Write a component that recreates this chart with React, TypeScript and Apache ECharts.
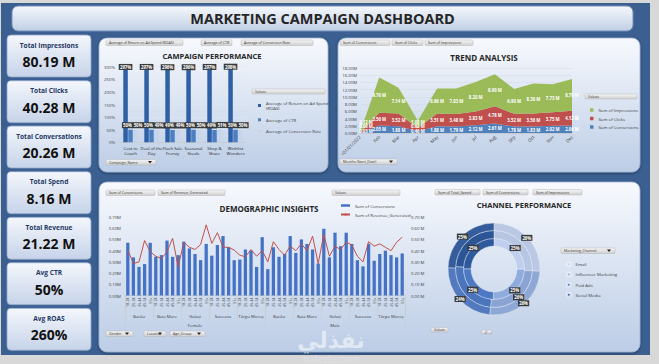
import React, { useEffect, useRef } from 'react';
import * as echarts from 'echarts';

const FONT = '"Open Sans", "Noto Sans", "DejaVu Sans", sans-serif';

// KPI cards
const kpiLabels = ['Total Impressions', 'Total Clicks', 'Total Conversations', 'Total Spend', 'Total Revenue', 'Avg CTR', 'Avg ROAS'];
const kpiValues = ['80.19 M', '40.28 M', '20.26 M', '8.16 M', '21.22 M', '50%', '260%'];

// Campaign performance
const campaigns = ['Cost to Couch', 'Deal of the Day', 'Flash Sale Frenzy', 'Seasonal Steals', 'Shop & Share', 'Wishlist Wonders'];
const roas = [2.97, 2.97, 2.96, 2.96, 2.97, 2.98];
const ctr = [0.5, 0.5, 0.49, 0.5, 0.49, 0.5];
const conversionRate = [0.5, 0.49, 0.49, 0.5, 0.51, 0.5];

// Trend analysis
const months = ['<01/01/2022', 'Feb', 'Mar', 'Apr', 'May', 'Jun', 'Jul', 'Aug', 'Sep', 'Oct', 'Nov', 'Dec'];
const impressions = [0.12, 9.76, 7.14, 1.98, 6.96, 7.03, 8.2, 8.9, 6.9, 8.3, 7.73, 8.79];
const clicks = [0.06, 3.56, 3.52, 0.92, 3.51, 3.48, 3.83, 4.78, 3.52, 3.56, 3.75, 4.12];
const conversions = [0.03, 2.05, 1.88, 0.46, 1.88, 1.79, 2.12, 2.61, 1.78, 1.83, 2.02, 2.06];

// Demographic insights
const ageGroups = ['18-24', '25-34', '35-44', '45-54', '55+'];
const locations = ['Bacău', 'Baia Mare', 'Galați', 'Suceava', 'Târgu Mureș'];
const genders = ['Female', 'Male'];
const demoConversions = [
  0.47, 0.34, 0.255, 0.28, 0.47, 0.345, 0.36, 0.49, 0.345, 0.36,
  0.48, 0.42, 0.37, 0.315, 0.46, 0.355, 0.45, 0.53, 0.43, 0.315,
  0.32, 0.41, 0.4, 0.255, 0.52, 0.235, 0.43, 0.345, 0.37, 0.53,
  0.38, 0.5, 0.46, 0.41, 0.285, 0.595, 0.34, 0.56, 0.44, 0.56,
  0.46, 0.315, 0.26, 0.46, 0.31, 0.37, 0.4, 0.36, 0.34, 0.375,
];
const demoRevenue = [
  0.405, 0.285, 0.3, 0.49, 0.39, 0.35, 0.33, 0.39, 0.51, 0.255,
  0.475, 0.43, 0.41, 0.455, 0.63, 0.465, 0.56, 0.43, 0.43, 0.405,
  0.36, 0.345, 0.41, 0.35, 0.4, 0.3, 0.48, 0.41, 0.36, 0.44,
  0.4, 0.46, 0.4, 0.53, 0.285, 0.545, 0.35, 0.44, 0.41, 0.475,
  0.45, 0.35, 0.3, 0.48, 0.44, 0.46, 0.43, 0.4, 0.475, 0.52,
];
const demoTicks = [0, 0.1, 0.2, 0.3, 0.4, 0.5, 0.6, 0.7];

// Channel performance
const channels = ['Email', 'Influencer Marketing', 'Paid Ads', 'Social Media'];
const channelSpend = [2.05, 2.06, 2.02, 2.03];
const channelConversions = [5.22, 5.2, 4.98, 4.86];
const channelImpressions = [20.7, 20.6, 19.2, 19.7];
const channelColors = ['#b7c6e3', '#89a4d3', '#4a74bb', '#2c5596'];

const grad = (c1: string, c2: string) =>
  new echarts.graphic.LinearGradient(0, 0, 0, 1, [
    { offset: 0, color: c1 },
    { offset: 1, color: c2 },
  ]);

const wrapLabel = (s: string, max = 11) => {
  const words = s.split(' ');
  const lines: string[] = [];
  let cur = '';
  words.forEach((w) => {
    const next = cur ? cur + ' ' + w : w;
    if (next.length > max && cur) {
      lines.push(cur);
      cur = w;
    } else cur = next;
  });
  if (cur) lines.push(cur);
  return lines.join('\n');
};

function button(x: number, y: number, w: number, h: number, text: string, arrow = false): any {
  const children: any[] = [
    { type: 'rect', shape: { x: 0, y: 0, width: w, height: h, r: 1 }, style: { fill: grad('#f6f6f6', '#cfcfcf'), stroke: '#ababab', lineWidth: 0.4 } },
    { type: 'text', x: 3, y: h / 2, style: { text, fontSize: 3.6, fill: '#3a3a3a', verticalAlign: 'middle', fontFamily: FONT } },
  ];
  if (arrow) {
    children.push({ type: 'polygon', shape: { points: [[w - 8, h / 2 - 1.2], [w - 4, h / 2 - 1.2], [w - 6, h / 2 + 1.3]] }, style: { fill: '#222' } });
  }
  return { type: 'group', x, y, children };
}

function panel(x: number, y: number, w: number, h: number): any {
  return {
    type: 'rect',
    shape: { x, y, width: w, height: h, r: 8 },
    style: { fill: grad('#f7f9fd', '#bccde6'), stroke: '#9cb2d3', lineWidth: 0.8, shadowBlur: 3, shadowColor: 'rgba(0,0,0,0.35)', shadowOffsetY: 1 },
  };
}

function title(x: number, y: number, text: string, size = 7.5): any {
  return { type: 'text', x, y, style: { text, fontSize: size, fontWeight: 'bold', fill: '#262626', align: 'center', verticalAlign: 'middle', fontFamily: FONT } };
}

function buildOption(): any {
  const g: any[] = [];
  // outer frame
  g.push({ type: 'rect', shape: { x: 1, y: 3, width: 649, height: 352 }, style: { fill: '#3a5f90' } });
  // title bar
  g.push({ type: 'rect', shape: { x: 12, y: 6, width: 621, height: 25, r: 6 }, style: { fill: grad('#f5f8fc', '#c0cfe5'), stroke: '#7590ba', lineWidth: 1 } });
  g.push(title(322.5, 18.5, 'MARKETING CAMPAIGN DASHBOARD', 14.5));

  // KPI cards
  const cardTops = [35, 80.7, 126, 171.7, 217.3, 262.7, 308.3];
  kpiLabels.forEach((lab, i) => {
    const t = cardTops[i];
    g.push({ type: 'rect', shape: { x: 7, y: t, width: 84, height: 42, r: 4 }, style: { fill: grad('#f4f7fc', '#c6d3e9'), stroke: '#8ea6ca', lineWidth: 0.8 } });
    g.push({ type: 'text', x: 49, y: t + 10, style: { text: lab, fontSize: 6.6, fontWeight: 'bold', fill: '#1f3864', align: 'center', verticalAlign: 'middle', fontFamily: FONT } });
    g.push({ type: 'text', x: 49, y: t + 26.5, style: { text: kpiValues[i], fontSize: 14, fontWeight: 'bold', fill: '#111', align: 'center', verticalAlign: 'middle', fontFamily: FONT } });
  });

  // panels
  g.push(panel(99, 38, 229, 134));
  g.push(panel(338, 38, 302, 134));
  g.push(panel(99, 182, 541, 170));

  // Campaign panel decorations
  g.push(button(106, 40, 77, 5.5, 'Average of Return on Ad Spend (ROAS)'));
  g.push(button(201, 40, 31, 5.5, 'Average of CTR'));
  g.push(button(241, 40, 72, 5.5, 'Average of Conversion Rate'));
  g.push(title(212, 56, 'CAMPAIGN PERFORMANCE'));
  g.push(button(252, 89, 73, 5, 'Values'));
  g.push(button(106, 159.5, 50, 5.5, 'Campaign_Name', true));

  // Trend panel decorations
  g.push(button(340, 40, 50, 5.5, 'Sum of Conversions'));
  g.push(button(392, 40, 31, 5.5, 'Sum of Clicks'));
  g.push(button(425, 40, 48, 5.5, 'Sum of Impressions'));
  g.push(title(484, 57.5, 'TREND ANALYSIS', 8));
  g.push(button(585, 94, 52, 5, 'Values'));
  g.push(button(340, 159, 57, 5.5, 'Months (Start_Date)', true));

  // Demographic decorations
  g.push(button(106, 190, 49, 5.5, 'Sum of Conversions'));
  g.push(button(158, 190, 67, 5.5, 'Sum of Revenue_Generated'));
  g.push(button(332, 190, 68, 5.5, 'Values'));
  g.push(title(269, 208, 'DEMOGRAPHIC INSIGHTS', 8));
  g.push(button(106, 331, 27, 5.5, 'Gender', true));
  g.push(button(144, 331, 22, 5.5, 'Location', true));
  g.push(button(170, 331, 35, 5.5, 'Age_Group', true));

  // Channel decorations
  g.push(button(435, 189.5, 45, 5.5, 'Sum of Total_Spend'));
  g.push(button(483, 189.5, 45, 5.5, 'Sum of Conversions'));
  g.push(button(533, 189.5, 49, 5.5, 'Sum of Impressions'));
  g.push(title(524, 204.5, 'CHANNEL PERFORMANCE', 7.5));
  g.push(button(561, 248, 54, 5.5, 'Marketing_Channel', true));
  g.push(button(431, 327.5, 17, 4.5, 'Values'));
  g.push(button(481.5, 330, 4.5, 4, '+'));
  g.push(button(487, 330, 4.5, 4, '-'));

  // watermark
  g.push({ type: 'text', x: 331, y: 340, z: 100, style: { text: 'نفذلي', fontSize: 22, fontWeight: 'bold', fill: 'rgba(255,255,255,0.55)', align: 'center', verticalAlign: 'middle', fontFamily: '"DejaVu Sans", sans-serif' } });
  g.push({ type: 'text', x: 331, y: 363.5, z: 100, style: { text: 'nafezlu.com', fontSize: 10, fill: 'rgba(225,230,238,0.75)', align: 'center', verticalAlign: 'bottom', fontFamily: FONT } });

  const campGrid = { left: 120, top: 66.7, width: 126, height: 75.6 };
  const trendGrid = { left: 360, top: 68, width: 212, height: 65 };
  const demoGrid = { left: 125, top: 217, width: 280, height: 78.5 };
  const trendMax = 18;
  const trendPx = trendGrid.height / trendMax;

  const axisText = { fontSize: 4.5, color: '#404040', fontFamily: FONT };
  const pctFmt = (v: number) => Math.round(v * 100) + '%';

  const darkLabel = { backgroundColor: '#3b3b3b', color: '#fff', fontSize: 4.3, fontWeight: 'bold', padding: [1, 1.2], fontFamily: FONT };

  // label placement inside stacked bands, kept apart where the bands are thin
  const stackSeries = [conversions, clicks, impressions];
  const labelOffsets: number[][] = stackSeries.map(() => []);
  months.forEach((_, i) => {
    let base = 0;
    let prev = -Infinity;
    stackSeries.forEach((arr, s) => {
      const top = base + arr[i];
      const pos = Math.max((base + arr[i] / 2) * trendPx, 2.3, prev + 4.6);
      labelOffsets[s][i] = top * trendPx - pos;
      prev = pos;
      base = top;
    });
  });

  const demoCats: string[] = [];
  genders.forEach(() => locations.forEach(() => ageGroups.forEach((a) => demoCats.push(a))));
  const locCats: string[] = [];
  genders.forEach(() => locations.forEach((l) => locCats.push(l)));

  const roasName = 'Average of Return on Ad Spend (ROAS)';

  const pieCommon = (name: string, radius: number[], values: number[], shade: number) => ({
    type: 'pie',
    name,
    center: [494, 269],
    radius,
    startAngle: 90,
    clockwise: true,
    data: channels.map((c, i) => ({
      name: c,
      value: values[i],
      itemStyle: { color: echarts.color.lift(channelColors[i], shade) },
    })),
    itemStyle: { borderColor: 'rgba(235,240,250,0.8)', borderWidth: 0.5 },
    label: {
      show: true,
      position: 'inside',
      formatter: (p: any) => Math.round(p.percent) + '%',
      ...darkLabel,
    },
    labelLine: { show: false },
    emphasis: { disabled: true },
  });

  return {
    animation: false,
    backgroundColor: '#d8d8d8',
    textStyle: { fontFamily: FONT },
    graphic: { elements: g },
    grid: [{ ...campGrid }, { ...trendGrid }, { ...demoGrid }],
    legend: [
      {
        data: [roasName, 'Average of CTR', 'Average of Conversion Rate'],
        orient: 'vertical',
        left: 253,
        top: 95,
        itemWidth: 3,
        itemHeight: 3,
        itemGap: 6,
        icon: 'rect',
        textStyle: { fontSize: 4.3, color: '#404040', lineHeight: 5.5 },
        formatter: (n: string) => (n === roasName ? 'Average of Return on Ad Spend\n(ROAS)' : n),
      },
      {
        data: ['Sum of Impressions', 'Sum of Clicks', 'Sum of Conversions'].map((n, i) => ({
          name: n,
          icon: 'rect',
          itemStyle: { color: ['#9bbb59', '#c0504d', '#4f81bd'][i] },
        })),
        orient: 'vertical',
        left: 585,
        top: 103,
        itemWidth: 3.5,
        itemHeight: 3.5,
        itemGap: 4.5,
        textStyle: { fontSize: 4.3, color: '#404040' },
      },
      {
        data: [
          { name: 'Sum of Conversions', icon: 'rect', itemStyle: { color: '#4472c4' } },
          { name: 'Sum of Revenue_Generated' },
        ],
        orient: 'vertical',
        left: 335,
        top: 198.5,
        itemWidth: 9,
        itemHeight: 2.5,
        itemGap: 5,
        textStyle: { fontSize: 4.3, color: '#404040' },
      },
      {
        data: channels,
        orient: 'vertical',
        left: 561,
        top: 256.5,
        itemWidth: 3.5,
        itemHeight: 3.5,
        itemGap: 4.7,
        icon: 'rect',
        textStyle: { fontSize: 4.3, color: '#404040' },
      },
    ],
    xAxis: [
      {
        type: 'category',
        gridIndex: 0,
        data: campaigns,
        axisLine: { lineStyle: { color: '#bfbfbf', width: 0.6 } },
        axisTick: { show: false },
        axisLabel: { ...axisText, fontSize: 4.3, color: '#262626', lineHeight: 5, margin: 3, interval: 0, formatter: (v: string) => wrapLabel(v) },
      },
      {
        type: 'category',
        gridIndex: 1,
        data: months,
        boundaryGap: false,
        axisLine: { lineStyle: { color: '#bfbfbf', width: 0.6 } },
        axisTick: { show: false },
        axisLabel: { ...axisText, rotate: 45, margin: 3, interval: 0 },
      },
      {
        type: 'category',
        gridIndex: 2,
        position: 'bottom',
        data: demoCats,
        axisLine: { lineStyle: { color: '#bfbfbf', width: 0.6 } },
        axisTick: { show: false },
        axisLabel: { ...axisText, fontSize: 3.6, rotate: 90, margin: 2, interval: 0 },
      },
      {
        type: 'category',
        gridIndex: 2,
        position: 'bottom',
        data: locCats,
        axisLine: { show: false },
        axisTick: { show: true, length: 24, lineStyle: { color: '#c9c9c9', width: 0.5 } },
        axisLabel: { ...axisText, fontSize: 4.3, margin: 18, interval: 0 },
      },
      {
        type: 'category',
        gridIndex: 2,
        position: 'bottom',
        data: genders,
        axisLine: { show: false },
        axisTick: { show: true, length: 34, lineStyle: { color: '#c9c9c9', width: 0.5 } },
        axisLabel: { ...axisText, fontSize: 4.3, margin: 27, interval: 0 },
      },
    ],
    yAxis: [
      {
        type: 'value',
        gridIndex: 0,
        min: 0,
        max: 3,
        interval: 0.5,
        axisLine: { show: false },
        axisTick: { show: false },
        splitLine: { lineStyle: { color: '#e3e8f0', width: 0.5 } },
        axisLabel: { ...axisText, fontSize: 4.3, margin: 5, formatter: pctFmt },
      },
      {
        type: 'value',
        gridIndex: 1,
        min: 0,
        max: trendMax,
        interval: 2,
        axisLine: { show: false },
        axisTick: { show: false },
        splitLine: { lineStyle: { color: '#d4d9e0', width: 0.5 } },
        axisLabel: { ...axisText, fontSize: 4.3, margin: 3, formatter: (v: number) => v.toFixed(2) + 'M' },
      },
      {
        type: 'value',
        gridIndex: 2,
        min: 0,
        max: demoTicks[demoTicks.length - 1],
        interval: 0.1,
        axisLine: { show: false },
        axisTick: { show: false },
        splitLine: { show: false },
        axisLabel: { ...axisText, fontSize: 4.3, margin: 4, formatter: (v: number) => v.toFixed(2) + 'M' },
      },
      {
        type: 'value',
        gridIndex: 2,
        position: 'right',
        min: 0,
        max: demoTicks[demoTicks.length - 1],
        interval: 0.1,
        axisLine: { show: false },
        axisTick: { show: false },
        splitLine: { show: false },
        axisLabel: { ...axisText, fontSize: 4.3, margin: 6, formatter: (v: number) => v.toFixed(2) + ' M' },
      },
    ],
    series: [
      {
        type: 'bar',
        name: roasName,
        xAxisIndex: 0,
        yAxisIndex: 0,
        data: roas,
        barWidth: 4.5,
        barGap: '10%',
        itemStyle: { color: '#2f5fa5' },
        label: { show: true, position: 'top', distance: -2.5, formatter: (p: any) => pctFmt(p.value), ...darkLabel },
      },
      {
        type: 'bar',
        name: 'Average of CTR',
        xAxisIndex: 0,
        yAxisIndex: 0,
        data: ctr,
        barWidth: 4.5,
        barGap: '10%',
        itemStyle: { color: '#4a7fc2' },
        label: { show: true, position: 'top', distance: 1.5, offset: [-3, 0], formatter: (p: any) => pctFmt(p.value), ...darkLabel },
      },
      {
        type: 'bar',
        name: 'Average of Conversion Rate',
        xAxisIndex: 0,
        yAxisIndex: 0,
        data: conversionRate,
        barWidth: 4.5,
        barGap: '10%',
        itemStyle: { color: '#c7d4ea' },
        label: { show: true, position: 'top', distance: 1.5, offset: [2.6, 0], formatter: (p: any) => pctFmt(p.value), ...darkLabel },
      },
      ...[
        { name: 'Sum of Conversions', data: conversions, color: '#4f81bd' },
        { name: 'Sum of Clicks', data: clicks, color: '#c0504d' },
        { name: 'Sum of Impressions', data: impressions, color: '#9bbb59' },
      ].map((s, si) => ({
        type: 'line',
        name: s.name,
        xAxisIndex: 1,
        yAxisIndex: 1,
        stack: 'trend',
        data: s.data.map((v, i) => ({ value: v, label: { offset: [i === 0 ? 6 : 0, labelOffsets[si][i]] } })),
        symbol: 'circle',
        symbolSize: 0.1,
        showSymbol: true,
        lineStyle: { width: 0 },
        itemStyle: { color: s.color },
        areaStyle: { color: s.color, opacity: 1 },
        label: {
          show: true,
          position: 'inside',
          formatter: (p: any) => p.value.toFixed(2) + ' M',
          color: '#fff',
          fontSize: 4.3,
          lineHeight: 4.4,
          fontWeight: 'bold',
        },
      })),
      {
        type: 'bar',
        name: 'Sum of Conversions',
        xAxisIndex: 2,
        yAxisIndex: 2,
        data: demoConversions,
        barWidth: '58%',
        itemStyle: { color: '#4472c4' },
      },
      {
        type: 'line',
        name: 'Sum of Revenue_Generated',
        xAxisIndex: 2,
        yAxisIndex: 3,
        data: demoRevenue,
        symbol: 'none',
        lineStyle: { color: '#c0504d', width: 1 },
        itemStyle: { color: '#c0504d' },
      },
      pieCommon('Sum of Total_Spend', [23, 30.5], channelSpend, -0.05),
      pieCommon('Sum of Conversions ', [30.5, 38.5], channelConversions, 0),
      pieCommon('Sum of Impressions ', [38.5, 46], channelImpressions, 0.05),
    ],
  };
}

export default function App() {
  const ref = useRef<HTMLDivElement>(null);
  useEffect(() => {
    document.body.style.margin = '0';
    const chart = echarts.init(ref.current!, null, { renderer: 'svg', width: 659, height: 364 });
    chart.setOption(buildOption());
    return () => chart.dispose();
  }, []);
  return <div ref={ref} style={{ width: 659, height: 364 }} />;
}
